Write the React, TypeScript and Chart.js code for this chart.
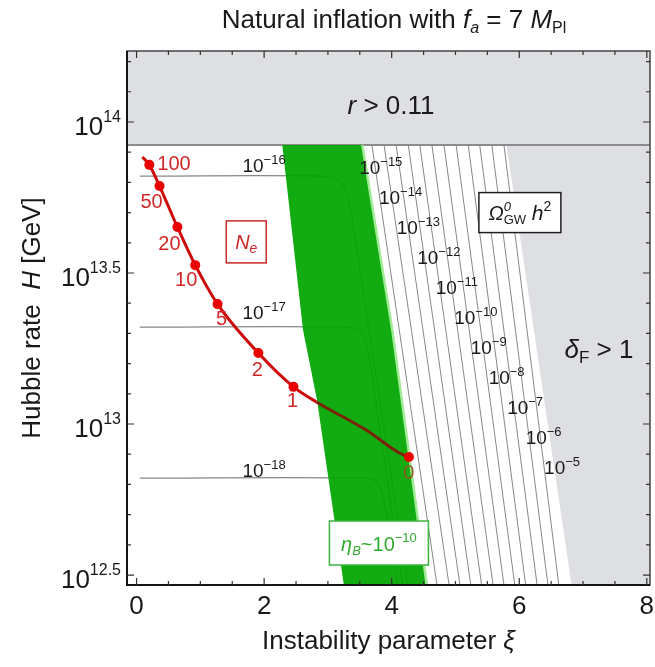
import React, { useEffect, useRef } from 'react';
import { Chart, registerables } from 'chart.js';

Chart.register(...registerables);

const FONT = "'Liberation Sans', Arial, Helvetica, sans-serif";

// ---------- axes (y is log10 of H in GeV) ----------
const xMin = -0.15;
const xMax = 8.05;
const yMin = 12.467;
const yMax = 14.235;
const xTickValues = [0, 2, 4, 6, 8];
const yTickValues = [12.5, 13, 13.5, 14];
const yTickExponents = ['12.5', '13', '13.5', '14'];

// ---------- N_e curve ----------
const curveXi = [0.09, 0.2, 0.36, 0.64, 0.92, 1.27, 1.91, 2.46, 2.82, 3.6, 4.12, 4.27];
const curveLogH = [13.884, 13.858, 13.788, 13.652, 13.526, 13.397, 13.235, 13.123, 13.073, 12.98, 12.904, 12.891];
const markerXi = [0.2, 0.36, 0.64, 0.92, 1.27, 1.91, 2.46, 4.27];
const markerLogH = [13.858, 13.788, 13.652, 13.526, 13.397, 13.235, 13.123, 12.891];
const markerLabels = ['100', '50', '20', '10', '5', '2', '1', '0'];

// ---------- regions ----------
const rBoundLogH = 13.924;
const greenXi = [2.285, 2.61, 2.83, 3.25, 4.55, 4.01, 3.54];
const greenLogH = [13.924, 13.311, 13.079, 12.467, 12.467, 13.311, 13.924];
const greenEdgeXi = [3.54, 4.01, 4.55];
const greenEdgeLogH = [13.924, 13.311, 12.467];
const deltaXi = [5.8, 8.05, 8.05, 6.82];
const deltaLogH = [13.924, 13.924, 12.467, 12.467];

// ---------- Omega_GW h^2 contours ----------
const gwTopXi = [3.69, 3.88, 4.07, 4.26, 4.44, 4.63, 4.82, 5.01, 5.2, 5.38, 5.57, 5.76];
const gwBottomXi = [4.71, 4.9, 5.07, 5.24, 5.41, 5.59, 5.76, 5.93, 6.1, 6.28, 6.45, 6.62];
const flatXi = [
  [0.05, 2.9, 3.15, 3.3, 3.38, 4.25],
  [0.05, 3.3, 3.5, 3.62, 3.8, 4.17],
  [0.05, 3.54, 3.75, 3.85, 4.0, 4.09],
];
const flatLogH = [
  [13.821, 13.821, 13.81, 13.76, 13.68, 12.467],
  [13.321, 13.321, 13.31, 13.25, 13.0, 12.467],
  [12.821, 12.821, 12.81, 12.77, 12.6, 12.467],
];
const flatExponents = ['\u221216', '\u221217', '\u221218'];
const gwExponents = ['\u221215', '\u221214', '\u221213', '\u221212', '\u221211', '\u221210', '\u22129', '\u22128', '\u22127', '\u22126', '\u22125'];

// ---------- annotation anchors (data coords) ----------
const flatLabelXi = 1.66;
const flatLabelLogH = [13.858, 13.371, 12.848];
const gwLabelXi = [3.49, 3.8, 4.08, 4.4, 4.69, 4.98, 5.24, 5.52, 5.81, 6.1, 6.39];
const gwLabelLogH = [13.851, 13.752, 13.652, 13.553, 13.454, 13.354, 13.255, 13.156, 13.056, 12.957, 12.858];
const markerLabelDx = [22, -8, -8, -9, 4, -1, -1, 0];
const markerLabelDy = [0, 16, 17, 15, 15, 17, 15, 17];

const GRAY = 'rgb(222,223,226)';
const RED = 'rgb(205,10,10)';
const BROWN = 'rgb(120,35,10)';
const LINE_GRAY = 'rgb(135,135,135)';
const INK = 'rgb(25,25,25)';

type Seg = { t: string; sz: number; it?: boolean; dy?: number; stack?: boolean; color?: string };

const fontOf = (s: Seg) => `${s.it ? 'italic ' : ''}${s.sz}px ${FONT}`;

function drawRich(ctx: CanvasRenderingContext2D, x: number, y: number, segs: Seg[], align: 'left' | 'center' | 'right', color: string) {
  const items: { s: Seg; x: number }[] = [];
  let cx = 0;
  let lastStart = 0;
  let lastW = 0;
  for (const s of segs) {
    ctx.font = fontOf(s);
    const w = ctx.measureText(s.t).width;
    if (s.stack) {
      items.push({ s, x: lastStart });
      const nw = Math.max(lastW, w);
      cx = lastStart + nw;
      lastW = nw;
    } else {
      items.push({ s, x: cx });
      lastStart = cx;
      lastW = w;
      cx += w;
    }
  }
  const total = cx;
  const x0 = align === 'left' ? x : align === 'center' ? x - total / 2 : x - total;
  ctx.textAlign = 'left';
  ctx.textBaseline = 'alphabetic';
  for (const it of items) {
    ctx.font = fontOf(it.s);
    ctx.fillStyle = it.s.color || color;
    ctx.fillText(it.s.t, x0 + it.x, y + (it.s.dy || 0));
  }
  return total;
}

const pts = (xs: number[], ys: number[]) => xs.map((x, i) => ({ x, y: ys[i] }));

const decorPlugin = {
  id: 'decor',
  afterDatasetsDraw(chart: any) {
    const { ctx, chartArea: a, scales } = chart;
    const X = (v: number) => scales.x.getPixelForValue(v);
    const Y = (v: number) => scales.y.getPixelForValue(v);
    ctx.save();

    // frame
    ctx.strokeStyle = 'rgb(70,70,70)';
    ctx.lineWidth = 1.5;
    ctx.strokeRect(a.left, a.top, a.right - a.left, a.bottom - a.top);
    ctx.strokeStyle = 'rgb(20,20,20)';
    ctx.lineWidth = 2;
    ctx.beginPath();
    ctx.moveTo(a.left, a.top);
    ctx.lineTo(a.left, a.bottom);
    ctx.lineTo(a.right, a.bottom);
    ctx.stroke();

    // inward ticks
    ctx.strokeStyle = 'rgb(50,50,50)';
    ctx.lineWidth = 1.2;
    ctx.beginPath();
    for (let k = 0; k <= 16; k++) {
      const px = X(k * 0.5);
      const len = k % 4 === 0 ? 7 : 4;
      ctx.moveTo(px, a.bottom);
      ctx.lineTo(px, a.bottom - len);
      ctx.moveTo(px, a.top);
      ctx.lineTo(px, a.top + len);
    }
    for (let k = 0; k <= 17; k++) {
      const py = Y(12.5 + k * 0.1);
      const len = k % 5 === 0 ? 7 : 4;
      ctx.moveTo(a.left, py);
      ctx.lineTo(a.left + len, py);
      ctx.moveTo(a.right, py);
      ctx.lineTo(a.right - len, py);
    }
    ctx.stroke();

    // y tick labels 10^n
    yTickValues.forEach((v, i) => {
      drawRich(ctx, a.left - 6, Y(v) + 13, [
        { t: '10', sz: 26 },
        { t: yTickExponents[i], sz: 16, dy: -13 },
      ], 'right', INK);
    });

    // title
    drawRich(ctx, 394, 28, [
      { t: 'Natural inflation with ', sz: 26 },
      { t: 'f', sz: 26, it: true },
      { t: 'a', sz: 16, it: true, dy: 5 },
      { t: ' = 7 ', sz: 26 },
      { t: 'M', sz: 26, it: true },
      { t: 'Pl', sz: 16, dy: 5 },
    ], 'center', INK);

    // axis titles
    drawRich(ctx, (a.left + a.right) / 2, 649, [
      { t: 'Instability parameter ', sz: 26 },
      { t: '\u03be', sz: 26, it: true },
    ], 'center', INK);
    ctx.save();
    ctx.translate(40, (a.top + a.bottom) / 2);
    ctx.rotate(-Math.PI / 2);
    drawRich(ctx, 0, 0, [
      { t: 'Hubble rate  ', sz: 26 },
      { t: 'H', sz: 26, it: true },
      { t: ' [GeV]', sz: 26 },
    ], 'center', INK);
    ctx.restore();

    // region labels
    drawRich(ctx, X(3.99), Y(14.056) + 9, [
      { t: 'r', sz: 26, it: true },
      { t: ' > 0.11', sz: 26 },
    ], 'center', INK);
    drawRich(ctx, X(7.25), Y(13.25) + 9, [
      { t: '\u03b4', sz: 26, it: true },
      { t: 'F', sz: 17, dy: 5 },
      { t: ' > 1', sz: 26 },
    ], 'center', INK);

    // boxes
    const box = (cxv: number, cyv: number, w: number, h: number, stroke: string) => {
      const cx = X(cxv);
      const cy = Y(cyv);
      ctx.fillStyle = 'white';
      ctx.fillRect(cx - w / 2, cy - h / 2, w, h);
      ctx.strokeStyle = stroke;
      ctx.lineWidth = 1.5;
      ctx.strokeRect(cx - w / 2, cy - h / 2, w, h);
      return { cx, cy };
    };
    let c = box(6.01, 13.7, 82, 40, 'rgb(30,30,30)');
    drawRich(ctx, c.cx, c.cy + 7, [
      { t: '\u03a9', sz: 20, it: true },
      { t: '0', sz: 13, it: true, dy: -9 },
      { t: 'GW', sz: 13, dy: 4, stack: true },
      { t: ' h', sz: 21, it: true },
      { t: '2', sz: 14, dy: -9 },
    ], 'center', INK);
    c = box(1.72, 13.603, 40, 42, 'rgb(200,40,40)');
    drawRich(ctx, c.cx, c.cy + 7, [
      { t: 'N', sz: 20, it: true },
      { t: 'e', sz: 14, it: true, dy: 4 },
    ], 'center', 'rgb(205,40,40)');
    c = box(3.8, 12.606, 99, 44, 'rgb(60,180,60)');
    drawRich(ctx, c.cx, c.cy + 8, [
      { t: '\u03b7', sz: 20, it: true },
      { t: 'B', sz: 13, it: true, dy: 4 },
      { t: '~10', sz: 20 },
      { t: '\u221210', sz: 13, dy: -9 },
    ], 'center', 'rgb(50,170,50)');

    // contour labels
    flatExponents.forEach((e, i) => {
      drawRich(ctx, X(flatLabelXi), Y(flatLabelLogH[i]) + 7, [
        { t: '10', sz: 19 },
        { t: e, sz: 13, dy: -8 },
      ], 'left', INK);
    });
    gwExponents.forEach((e, i) => {
      drawRich(ctx, X(gwLabelXi[i]), Y(gwLabelLogH[i]) + 7, [
        { t: '10', sz: 19 },
        { t: e, sz: 13, dy: -8 },
      ], 'left', INK);
    });

    // N_e marker labels
    markerLabels.forEach((t, i) => {
      const px = X(markerXi[i]) + markerLabelDx[i];
      const py = Y(markerLogH[i]) + markerLabelDy[i];
      ctx.font = `20px ${FONT}`;
      ctx.textAlign = i === 0 ? 'left' : 'center';
      ctx.textBaseline = 'middle';
      ctx.fillStyle = t === '0' ? 'rgb(140,90,30)' : 'rgb(210,40,40)';
      ctx.fillText(t, i === 0 ? px - 14 : px, py);
    });

    ctx.restore();
  },
};

export default function App() {
  const ref = useRef<HTMLCanvasElement | null>(null);

  useEffect(() => {
    if (!ref.current) return;
    const lineDs = (data: any[], color: string, width: number, order: number, extra: any = {}) => ({
      data,
      borderColor: color,
      borderWidth: width,
      pointRadius: 0,
      fill: false,
      tension: 0,
      order,
      ...extra,
    });

    const datasets: any[] = [];
    datasets.push(lineDs(pts([xMin, xMax], [rBoundLogH, rBoundLogH]), 'rgb(140,140,142)', 2, 20, { fill: 'end', backgroundColor: GRAY }));
    datasets.push(lineDs(pts(deltaXi, deltaLogH), 'rgba(0,0,0,0)', 0, 21, { fill: 'shape', backgroundColor: GRAY }));
    gwTopXi.forEach((t, i) => {
      datasets.push(lineDs(pts([t, gwBottomXi[i]], [rBoundLogH, yMin]), LINE_GRAY, 1, 15));
    });
    flatXi.forEach((xs, i) => {
      datasets.push(lineDs(pts(xs, flatLogH[i]), LINE_GRAY, 1.2, 15, { tension: 0.35 }));
    });
    datasets.push(lineDs(pts(greenXi, greenLogH), 'rgba(0,0,0,0)', 0, 10, { fill: 'shape', backgroundColor: 'rgba(0,165,0,0.93)' }));
    datasets.push(lineDs(pts(greenEdgeXi, greenEdgeLogH), 'rgb(160,235,150)', 2.5, 9));
    datasets.push(lineDs(pts(curveXi, curveLogH), RED, 3, 5, {
      cubicInterpolationMode: 'monotone',
      segment: { borderColor: (ctx: any) => (ctx.p0.parsed.x >= 2.8 ? BROWN : RED) },
    }));
    datasets.push({
      data: pts(markerXi, markerLogH),
      showLine: false,
      pointRadius: 5,
      pointBackgroundColor: 'rgb(235,0,0)',
      pointBorderColor: 'rgb(235,0,0)',
      pointBorderWidth: 0,
      order: 4,
    });

    const chart = new Chart(ref.current, {
      type: 'line',
      data: { datasets },
      options: {
        animation: false,
        responsive: false,
        layout: { padding: { top: 51, right: 4, left: 0, bottom: 0 } },
        plugins: { legend: { display: false }, tooltip: { enabled: false }, title: { display: false } },
        scales: {
          x: {
            type: 'linear',
            min: xMin,
            max: xMax,
            grid: { display: false, drawTicks: false },
            border: { display: false },
            afterBuildTicks: (s: any) => {
              s.ticks = xTickValues.map((v) => ({ value: v }));
            },
            ticks: { font: { family: FONT, size: 26 }, color: INK, padding: 6, maxRotation: 0, autoSkip: false },
            afterFit: (s: any) => {
              s.height = 82;
              s.paddingLeft = 0;
              s.paddingRight = 0;
            },
          },
          y: {
            type: 'linear',
            min: yMin,
            max: yMax,
            grid: { display: false, drawTicks: false },
            border: { display: false },
            ticks: { display: false },
            afterFit: (s: any) => {
              s.width = 127;
              s.paddingTop = 0;
              s.paddingBottom = 0;
            },
          },
        },
      } as any,
      plugins: [decorPlugin],
    });
    return () => chart.destroy();
  }, []);

  return (
    <div style={{ position: 'fixed', left: 0, top: 0, width: 655, height: 667, background: 'white' }}>
      <canvas ref={ref} width={655} height={667} style={{ display: 'block' }} />
    </div>
  );
}
